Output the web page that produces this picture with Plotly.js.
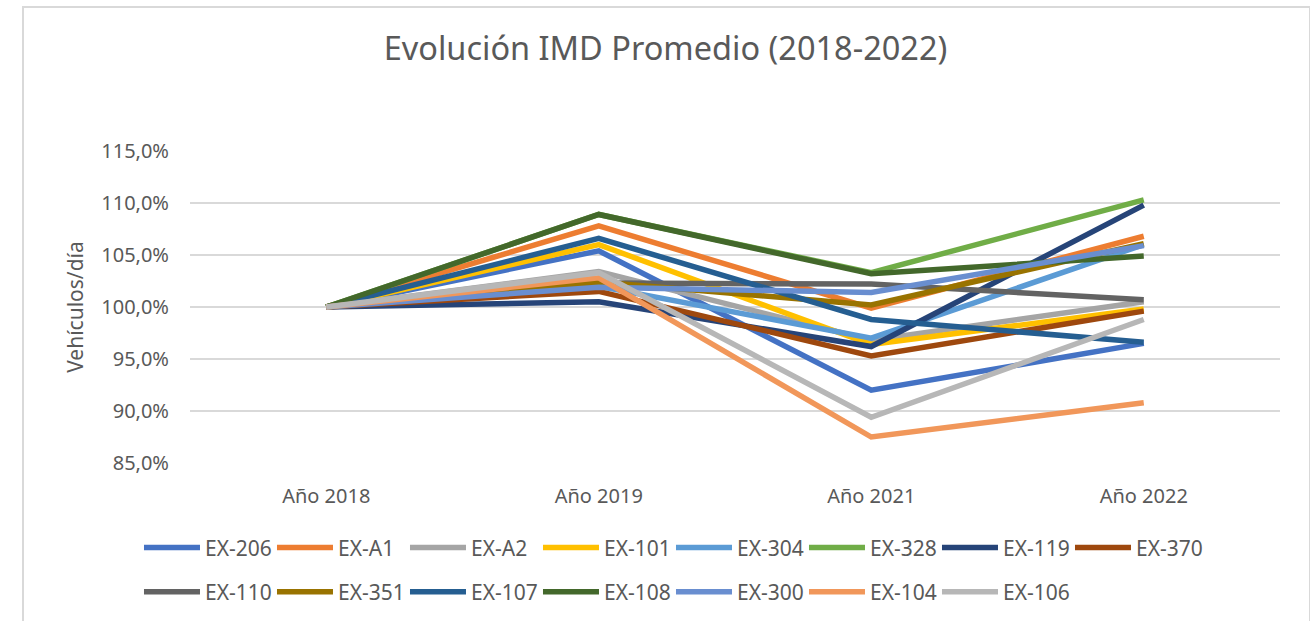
<!DOCTYPE html>
<html>
<head>
<meta charset="utf-8">
<script src="https://cdn.plot.ly/plotly-3.0.1.min.js"></script>
<style>
  html, body { margin: 0; padding: 0; background: #ffffff; }
  #frame { position: absolute; left: 22px; top: 6px; width: 1285px; height: 640px;
           border-left: 2px solid #d9d9d9; border-top: 2px solid #d9d9d9; border-right: 2px solid #d9d9d9; }
  #chart { position: absolute; left: 0; top: 0; width: 1310px; height: 621px; }
</style>
</head>
<body>
<div id="frame"></div>
<div id="chart"></div>
<script>
const categories = ["Año 2018", "Año 2019", "Año 2021", "Año 2022"];

const seriesNames = ["EX-206", "EX-A1", "EX-A2", "EX-101", "EX-304", "EX-328", "EX-119", "EX-370",
                     "EX-110", "EX-351", "EX-107", "EX-108", "EX-300", "EX-104", "EX-106"];

const ex206 = [100.0, 105.4, 92.0, 96.5];
const exA1  = [100.0, 107.8, 99.9, 106.8];
const exA2  = [100.0, 103.4, 96.8, 100.5];
const ex101 = [100.0, 106.0, 96.4, 99.8];
const ex304 = [100.0, 102.0, 97.0, 106.0];
const ex328 = [100.0, 108.9, 103.3, 110.3];
const ex119 = [100.0, 100.5, 96.2, 109.8];
const ex370 = [100.0, 101.5, 95.3, 99.6];
const ex110 = [100.0, 102.3, 102.2, 100.7];
const ex351 = [100.0, 102.4, 100.2, 106.1];
const ex107 = [100.0, 106.6, 98.8, 96.6];
const ex108 = [100.0, 108.9, 103.2, 104.9];
const ex300 = [100.0, 101.9, 101.4, 105.9];
const ex104 = [100.0, 102.8, 87.5, 90.8];
const ex106 = [100.0, 103.3, 89.4, 98.8];

const seriesValues = [ex206, exA1, exA2, ex101, ex304, ex328, ex119, ex370,
                      ex110, ex351, ex107, ex108, ex300, ex104, ex106];

const colors = ["#4472C4", "#ED7D31", "#A5A5A5", "#FFC000", "#5B9BD5", "#70AD47", "#264478", "#9E480E",
                "#636363", "#997300", "#255E91", "#43682B", "#698ED0", "#F1975A", "#B7B7B7"];

const traces = seriesNames.map((name, i) => ({
  type: "scatter",
  mode: "lines",
  name: name,
  x: categories,
  y: seriesValues[i],
  line: { color: colors[i], width: 5.5 },
  legend: i < 8 ? "legend" : "legend2",
  hoverinfo: "x+y+name"
}));

const textColor = "#595959";
const fontFam = "'Noto Sans', 'DejaVu Sans', sans-serif";

const legendCommon = {
  orientation: "h",
  xref: "container",
  yref: "container",
  xanchor: "left",
  yanchor: "middle",
  x: 0.1061,
  font: { family: fontFam, size: 21, color: textColor },
  bgcolor: "rgba(0,0,0,0)",
  itemwidth: 56,
  entrywidth: 62,
  entrywidthmode: "pixels",
  traceorder: "normal"
};

const layout = {
  width: 1310,
  height: 621,
  paper_bgcolor: "rgba(0,0,0,0)",
  plot_bgcolor: "#ffffff",
  separators: ",.",
  margin: { l: 190, r: 30, t: 151, b: 158 },
  title: {
    text: "Evolución IMD Promedio (2018-2022)",
    font: { family: fontFam, size: 32.5, color: textColor },
    x: 0.508, xanchor: "center",
    y: 0.922, yanchor: "middle", yref: "container"
  },
  xaxis: {
    type: "category",
    range: [-0.5, 3.5],
    showgrid: false,
    zeroline: false,
    showline: false,
    ticks: "",
    tickfont: { family: fontFam, size: 20, color: textColor },
    ticklabelstandoff: 19
  },
  yaxis: {
    range: [85, 115],
    dtick: 5,
    tick0: 85,
    tickformat: ".1f",
    ticksuffix: "%",
    showgrid: true,
    gridcolor: "#d9d9d9",
    gridwidth: 1.5,
    zeroline: false,
    showline: false,
    ticks: "",
    ticklabelstandoff: 20,
    tickfont: { family: fontFam, size: 20, color: textColor },
    title: { text: "Vehículos/día", font: { family: fontFam, size: 21, color: textColor }, standoff: 11 }
  },
  showlegend: true,
  legend: Object.assign({}, legendCommon, { y: 0.1176 }),
  legend2: Object.assign({}, legendCommon, { y: 0.0467 })
};

Plotly.newPlot("chart", traces, layout, { displayModeBar: false, responsive: false });
</script>
</body>
</html>
